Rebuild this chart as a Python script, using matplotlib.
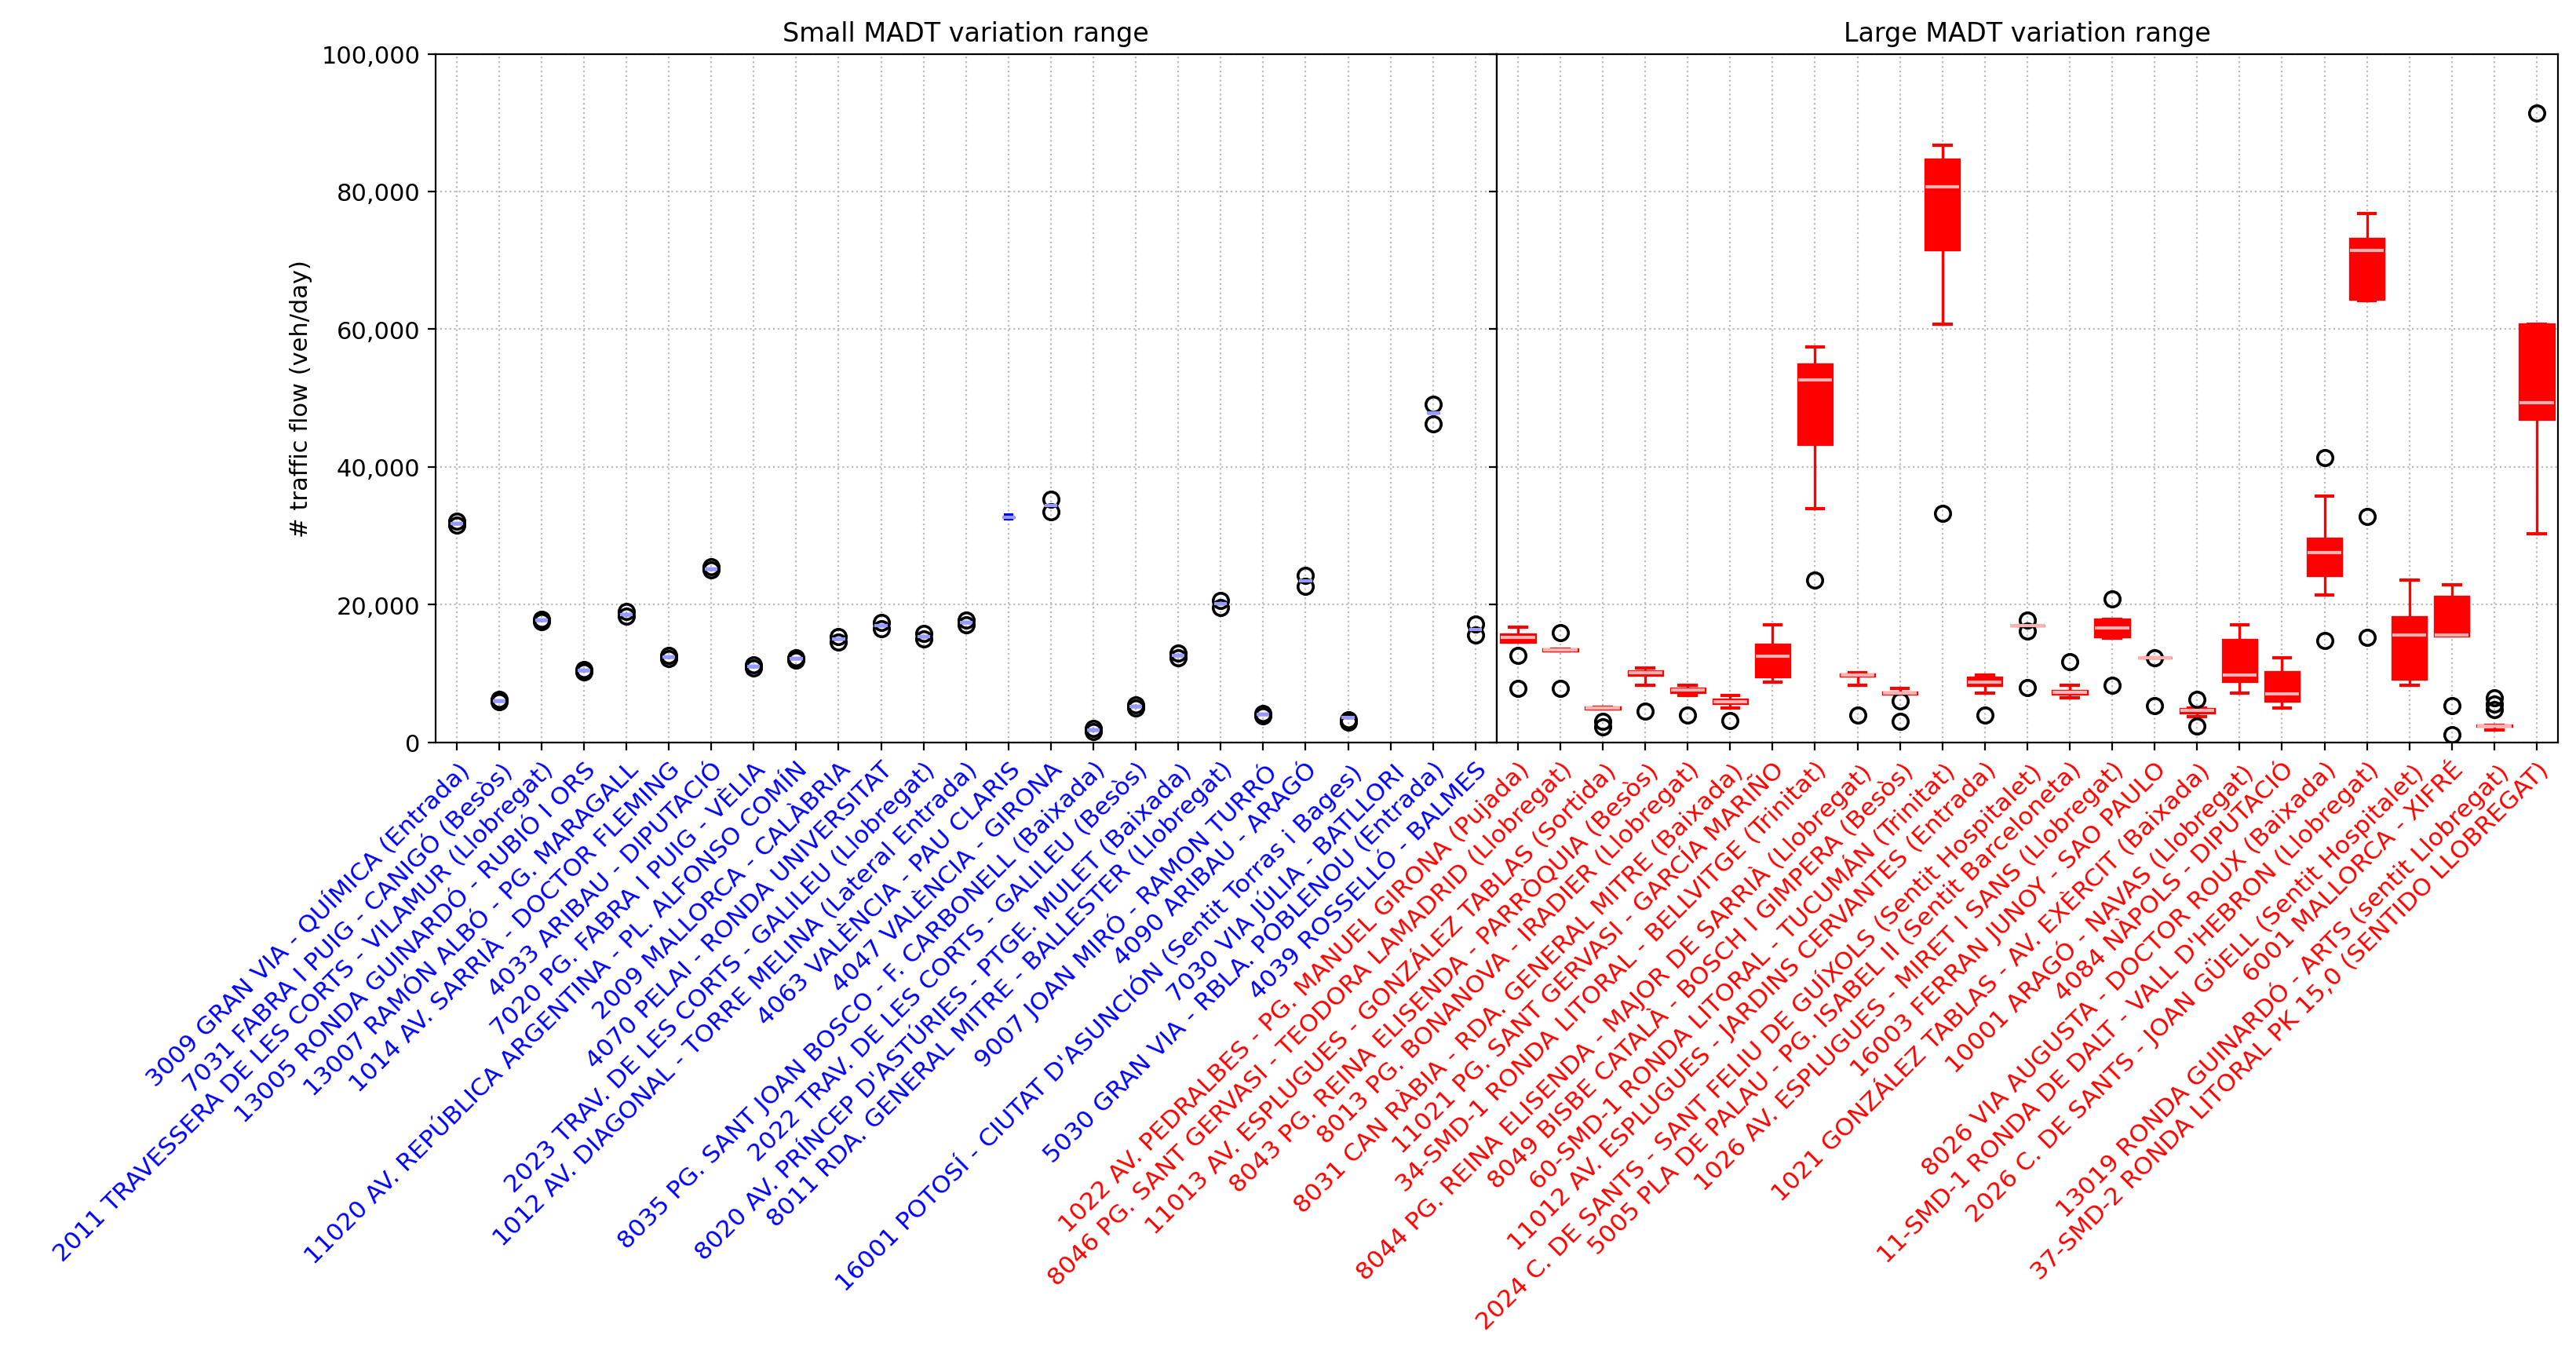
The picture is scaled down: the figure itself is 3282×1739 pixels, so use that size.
import numpy as np
import matplotlib
matplotlib.use("Agg")
import matplotlib.pyplot as plt
from matplotlib.ticker import FuncFormatter

# Small MADT variation range stations (blue)
small_names = [
    "3009 GRAN VIA - QUÍMICA (Entrada)",
    "7031 FABRA I PUIG - CANIGÓ (Besòs)",
    "2011 TRAVESSERA DE LES CORTS - VILAMUR (Llobregat)",
    "13005 RONDA GUINARDÓ - RUBIÓ I ORS",
    "13007 RAMÓN ALBÓ - PG. MARAGALL",
    "1014 AV. SARRIÀ - DOCTOR FLEMING",
    "4033 ARIBAU - DIPUTACIÓ",
    "7020 PG. FABRA I PUIG - VÈLIA",
    "11020 AV. REPÚBLICA ARGENTINA - PL. ALFONSO COMÍN",
    "2009 MALLORCA - CALÀBRIA",
    "4070 PELAI - RONDA UNIVERSITAT",
    "2023 TRAV. DE LES CORTS - GALILEU (Llobregat)",
    "1012 AV. DIAGONAL - TORRE MELINA (Lateral Entrada)",
    "4063 VALÈNCIA - PAU CLARIS",
    "4047 VALÈNCIA - GIRONA",
    "8035 PG. SANT JOAN BOSCO - F. CARBONELL (Baixada)",
    "2022 TRAV. DE LES CORTS - GALILEU (Besòs)",
    "8020 AV. PRÍNCEP D'ASTÚRIES - PTGE. MULET (Baixada)",
    "8011 RDA. GENERAL MITRE - BALLESTER (Llobregat)",
    "9007 JOAN MIRÓ - RAMON TURRÓ",
    "4090 ARIBAU - ARAGÓ",
    "16001 POTOSÍ - CIUTAT D'ASUNCIÓN (Sentit Torras i Bages)",
    "7030 VIA JÚLIA - BATLLORI",
    "5030 GRAN VIA - RBLA. POBLENOU (Entrada)",
    "4039 ROSSELLÓ - BALMES",
]
small_whislo = [31800, 6000, 17700, 10400, 18500, 12400, 25200, 11000, 12100, 15000, 16900, 15400, 17400, 32400, 34400, 1800, 5200, 12600, 20100, 4000, 23400, 3600, np.nan, 47800, 16400]
small_q1     = [31800, 6000, 17700, 10400, 18500, 12400, 25200, 11000, 12100, 15000, 16900, 15400, 17400, 32700, 34400, 1800, 5200, 12600, 20100, 4000, 23400, 3600, np.nan, 47800, 16400]
small_med    = [31800, 6000, 17700, 10400, 18500, 12400, 25200, 11000, 12100, 15000, 16900, 15400, 17400, 32700, 34400, 1800, 5200, 12600, 20100, 4000, 23400, 3600, np.nan, 47800, 16400]
small_q3     = [31800, 6000, 17700, 10400, 18500, 12400, 25200, 11000, 12100, 15000, 16900, 15400, 17400, 32700, 34400, 1800, 5200, 12600, 20100, 4000, 23400, 3600, np.nan, 47800, 16400]
small_whishi = [31800, 6000, 17700, 10400, 18500, 12400, 25200, 11000, 12100, 15000, 16900, 15400, 17400, 33000, 34400, 1800, 5200, 12600, 20100, 4000, 23400, 3600, np.nan, 47800, 16400]
small_fliers = [
    [32100, 31500], [6200, 5900], [17900, 17500], [10600, 10200], [19000, 18300],
    [12600, 12100], [25500, 25000], [11200, 10800], [12300, 11900], [15400, 14600],
    [17400, 16500], [15800, 15000], [17700, 17100], [], [35300, 33500],
    [2000, 1600], [5400, 5000], [12900, 12300], [20600, 19600], [4200, 3800],
    [24200, 22600], [3300, 2900], [], [49100, 46300], [17200, 15600],
]

# Large MADT variation range stations (red)
large_names = [
    "1022 AV. PEDRALBES - PG. MANUEL GIRONA (Pujada)",
    "8046 PG. SANT GERVASI - TEODORA LAMADRID (Llobregat)",
    "11013 AV. ESPLUGUES - GONZÁLEZ TABLAS (Sortida)",
    "8043 PG. REINA ELISENDA - PARRÒQUIA (Besòs)",
    "8013 PG. BONANOVA - IRADIER (Llobregat)",
    "8031 CAN RÀBIA - RDA. GENERAL MITRE (Baixada)",
    "11021 PG. SANT GERVASI - GARCÍA MARIÑO",
    "34-SMD-1 RONDA LITORAL - BELLVITGE (Trinitat)",
    "8044 PG. REINA ELISENDA - MAJOR DE SARRIÀ (Llobregat)",
    "8049 BISBE CATALÀ - BOSCH I GIMPERA (Besòs)",
    "60-SMD-1 RONDA LITORAL - TUCUMÁN (Trinitat)",
    "11012 AV. ESPLUGUES - JARDINS CERVANTES (Entrada)",
    "2024 C. DE SANTS - SANT FELIU DE GUÍXOLS (Sentit Hospitalet)",
    "5005 PLA DE PALAU - PG. ISABEL II (Sentit Barceloneta)",
    "1026 AV. ESPLUGUES - MIRET I SANS (Llobregat)",
    "16003 FERRAN JUNOY - SAO PAULO",
    "1021 GONZÁLEZ TABLAS - AV. EXÈRCIT (Baixada)",
    "10001 ARAGÓ - NAVAS (Llobregat)",
    "4084 NÀPOLS - DIPUTACIÓ",
    "8026 VIA AUGUSTA - DOCTOR ROUX (Baixada)",
    "11-SMD-1 RONDA DE DALT - VALL D'HEBRON (Llobregat)",
    "2026 C. DE SANTS - JOAN GÜELL (Sentit Hospitalet)",
    "6001 MALLORCA - XIFRÉ",
    "13019 RONDA GUINARDÓ - ARTS (sentit Llobregat)",
    "37-SMD-2 RONDA LITORAL PK 15,0 (SENTIDO LLOBREGAT)",
]
large_whislo = [14600, 13300, 4900, 8300, 6800, 5000, 8700, 33900, 8300, 7000, 60700, 7100, 16900, 6400, 15100, 12300, 3700, 7100, 5000, 21400, 64100, 8300, 15500, 1800, 30300]
large_q1     = [14600, 13300, 4900, 9800, 7300, 5600, 9500, 43300, 9600, 7000, 71600, 8300, 16900, 7000, 15400, 12300, 4300, 8900, 6000, 24200, 64400, 9200, 15500, 2300, 46900]
large_med    = [15200, 13400, 5000, 10100, 7600, 5900, 12500, 52600, 9800, 7100, 80700, 8700, 16900, 7200, 16600, 12300, 4600, 9800, 7000, 27500, 71400, 15600, 15600, 2400, 49300]
large_q3     = [15700, 13500, 5100, 10300, 7800, 6200, 14150, 54900, 9900, 7200, 84700, 9400, 16900, 7500, 17800, 12300, 4900, 14900, 10200, 29600, 73200, 18200, 21200, 2500, 60700]
large_whishi = [16700, 13500, 5100, 10800, 8300, 6800, 17000, 57400, 10100, 7800, 86700, 9700, 16900, 8300, 17800, 12300, 5000, 17100, 12300, 35700, 76800, 23600, 22900, 2500, 60700]
large_fliers = [
    [12600, 7800], [15900, 7800], [3000, 2200], [4500], [3900], [3100], [], [23600],
    [3900], [6000, 3000], [33200], [3900], [17700, 16100, 7900], [11700],
    [20800, 8300], [12300, 5300], [6200, 2400], [], [], [41300, 14800],
    [32800, 15200], [], [5300, 1100], [6400, 5500, 4700], [91400],
]


def make_stats(whislo, q1, med, q3, whishi, fliers):
    stats = []
    for i in range(len(med)):
        stats.append({"whislo": whislo[i], "q1": q1[i], "med": med[i], "q3": q3[i],
                      "whishi": whishi[i], "fliers": np.array(fliers[i])})
    return stats


def draw(ax, stats, color, names, title, width):
    ax.bxp(stats, positions=range(1, len(stats) + 1), widths=width, patch_artist=True,
           boxprops=dict(facecolor=color, edgecolor=color, linewidth=1.2),
           medianprops=dict(color="#ffb0b0" if color == "red" else "#9999ff", linewidth=1.5),
           whiskerprops=dict(color=color, linewidth=1.2),
           capprops=dict(color=color, linewidth=1.5),
           flierprops=dict(marker="o", markerfacecolor="none", markeredgecolor="black",
                           markersize=7, markeredgewidth=1.3))
    ax.set_xticks(range(1, len(stats) + 1))
    ax.set_xticklabels(names, rotation=45, ha="right", rotation_mode="anchor",
                       color=color, fontsize=11.3)
    ax.set_xlim(0.5, len(stats) + 0.5)
    ax.grid(True, linestyle=":", color="#bbbbbb", linewidth=0.8)
    ax.set_title(title, fontsize=12)


fig, (ax1, ax2) = plt.subplots(1, 2, sharey=True, figsize=(16.41, 8.7), dpi=200)
plt.subplots_adjust(left=0.169, right=0.993, top=0.96, bottom=0.456, wspace=0)

draw(ax1, make_stats(small_whislo, small_q1, small_med, small_q3, small_whishi, small_fliers),
     "blue", small_names, "Small MADT variation range", 0.3)
draw(ax2, make_stats(large_whislo, large_q1, large_med, large_q3, large_whishi, large_fliers),
     "red", large_names, "Large MADT variation range", 0.8)

ax1.set_ylim(0, 100000)
ax1.set_yticks(range(0, 100001, 20000))
ax1.yaxis.set_major_formatter(FuncFormatter(lambda v, p: f"{int(v):,}"))
ax1.set_ylabel("# traffic flow (veh/day)", fontsize=11)
ax1.tick_params(axis="y", labelsize=11)
ax2.tick_params(axis="y", left=True, labelleft=False)

fig.savefig("out.png", dpi=200)
